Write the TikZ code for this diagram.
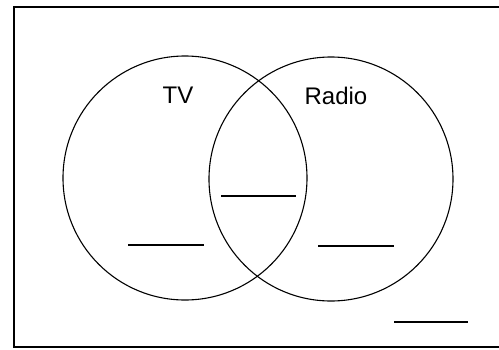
\documentclass[tikz,border=0pt]{standalone}
\usepackage{fontspec}
\setmainfont{Liberation Sans}
\usetikzlibrary{positioning}

\begin{document}
\begin{tikzpicture}[
      x=1pt, y=-1pt,
      set/.style={draw, circle, minimum size=244pt, inner sep=0pt, line width=1.1pt},
      title/.style={font=\fontsize{24}{28}\selectfont, inner sep=0pt},
      blank/.style={inner sep=0pt}
    ]
    \useasboundingbox (0,0) rectangle (499,349);
    \draw[line width=1.3pt] (14,7) rectangle (520,347);

    \node[set] (tv) at (185,178) {};
    \node[set] (radio) at (331,179) {};

    \node[title] (tvName) at (178,95) {TV};
    \node[title] (radioName) at (336,96) {Radio};

    \node[blank] (tvBlank) at (166,245) {\rule{76pt}{1.4pt}};
    \node[blank] (bothBlank) at (258.5,196) {\rule{75pt}{1.4pt}};
    \node[blank] (radioBlank) at (356,246) {\rule{76pt}{1.4pt}};
    \node[blank] (noneBlank) at (431,322) {\rule{74pt}{1.4pt}};
  \end{tikzpicture}
\end{document}
